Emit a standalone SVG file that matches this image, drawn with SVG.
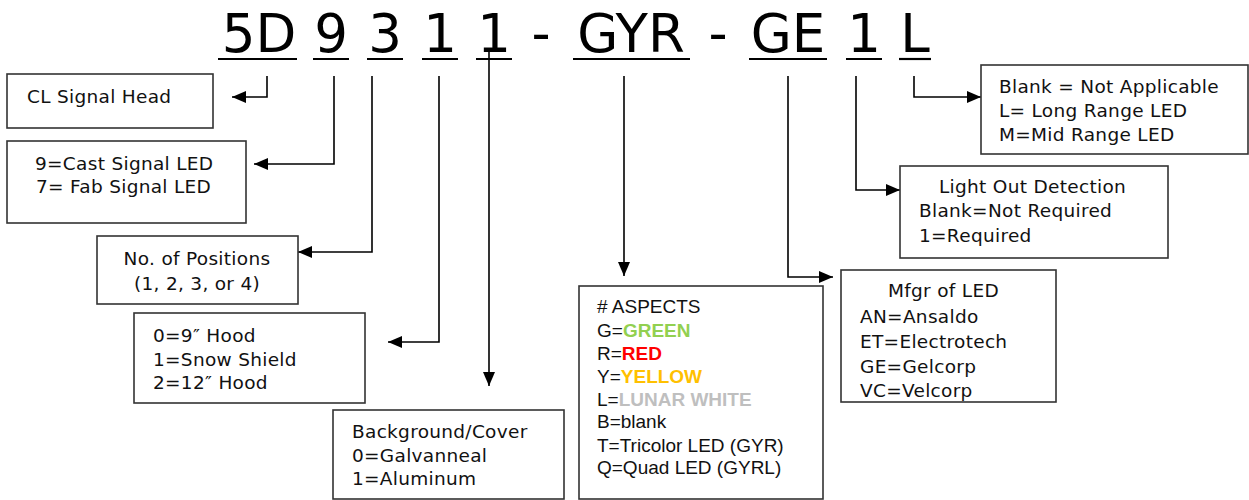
<svg xmlns="http://www.w3.org/2000/svg" width="1249" height="500" viewBox="0 0 1249 500">
<defs>
<marker id="arr" markerUnits="userSpaceOnUse" markerWidth="15" markerHeight="12" refX="14" refY="6" orient="auto">
<path d="M0,0 L14,6 L0,12 z" fill="#000"/>
</marker>
<style>
.box{fill:#fff;stroke:#333;stroke-width:1.6}
.t{font-family:"DejaVu Sans","Verdana",sans-serif;font-size:18.5px;fill:#111;letter-spacing:0.3px}
.a{font-family:"Liberation Sans",Arial,sans-serif;font-size:19px;fill:#111}
.b{font-weight:bold}
.h{font-family:"DejaVu Sans","Verdana",sans-serif;font-size:53px;fill:#000;text-anchor:middle}
.u{stroke:#000;stroke-width:2.2}
.c{fill:none;stroke:#000;stroke-width:1.6}
</style>
</defs>
<rect width="1249" height="500" fill="#fff"/>
<g id="header">
<text class="h" x="259" y="52">5D</text>
<text class="h" x="331" y="52">9</text>
<text class="h" x="385" y="52">3</text>
<text class="h" x="440" y="52">1</text>
<text class="h" x="494" y="52">1</text>
<text class="h" x="541" y="52">-</text>
<text class="h" x="631" y="52">GYR</text>
<text class="h" x="718" y="52">-</text>
<text class="h" x="788" y="52">GE</text>
<text class="h" x="864" y="52">1</text>
<text class="h" x="915" y="52">L</text>
<line class="u" x1="218" y1="59" x2="297" y2="59"/>
<line class="u" x1="313" y1="59" x2="349" y2="59"/>
<line class="u" x1="367" y1="59" x2="403" y2="59"/>
<line class="u" x1="422" y1="59" x2="458" y2="59"/>
<line class="u" x1="476" y1="59" x2="512" y2="59"/>
<line class="u" x1="573" y1="59" x2="690" y2="59"/>
<line class="u" x1="749" y1="59" x2="827" y2="59"/>
<line class="u" x1="846" y1="59" x2="882" y2="59"/>
<line class="u" x1="899" y1="59" x2="931" y2="59"/>
</g>
<g id="connectors">
<path class="c" d="M267,76 V97 H232" marker-end="url(#arr)"/>
<path class="c" d="M334,76 V164 H254" marker-end="url(#arr)"/>
<path class="c" d="M372,76 V252 H298" marker-end="url(#arr)"/>
<path class="c" d="M439,76 V342 H388" marker-end="url(#arr)"/>
<path class="c" d="M489,52 V386" marker-end="url(#arr)"/>
<path class="c" d="M624,76 V276" marker-end="url(#arr)"/>
<path class="c" d="M788,76 V277 H833" marker-end="url(#arr)"/>
<path class="c" d="M856,76 V190 H900" marker-end="url(#arr)"/>
<path class="c" d="M914,76 V97 H981" marker-end="url(#arr)"/>
</g>
<g id="cl-signal-head">
<rect class="box" x="7" y="74" width="206" height="54"/>
<text class="t" x="27" y="103">CL Signal Head</text>
</g>
<g id="signal-type">
<rect class="box" x="7" y="141" width="239" height="82"/>
<text class="t" x="35" y="170">9=Cast Signal LED</text>
<text class="t" x="36" y="193">7= Fab Signal LED</text>
</g>
<g id="positions">
<rect class="box" x="97" y="236" width="201" height="68"/>
<text class="t" x="197" y="265" text-anchor="middle">No. of Positions</text>
<text class="t" x="197" y="290" text-anchor="middle">(1, 2, 3, or 4)</text>
</g>
<g id="hood">
<rect class="box" x="134" y="313" width="231" height="90"/>
<text class="t" x="153" y="342">0=9″ Hood</text>
<text class="t" x="153" y="366">1=Snow Shield</text>
<text class="t" x="153" y="389">2=12″ Hood</text>
</g>
<g id="background">
<rect class="box" x="333" y="410" width="231" height="89"/>
<text class="t" x="352" y="438">Background/Cover</text>
<text class="t" x="352" y="462">0=Galvanneal</text>
<text class="t" x="352" y="485">1=Aluminum</text>
</g>
<g id="aspects">
<rect class="box" x="579" y="286" width="244" height="213"/>
<text class="a" x="597" y="313"># ASPECTS</text>
<text class="a" x="597" y="337">G=<tspan class="b" fill="#92D050">GREEN</tspan></text>
<text class="a" x="597" y="360">R=<tspan class="b" fill="#FF0000">RED</tspan></text>
<text class="a" x="597" y="383">Y=<tspan class="b" fill="#FFC000">YELLOW</tspan></text>
<text class="a" x="597" y="406">L=<tspan class="b" fill="#BFBFBF">LUNAR WHITE</tspan></text>
<text class="a" x="597" y="428">B=blank</text>
<text class="a" x="597" y="452">T=Tricolor LED (GYR)</text>
<text class="a" x="597" y="474">Q=Quad LED (GYRL)</text>
</g>
<g id="manufacturer">
<rect class="box" x="841" y="270" width="215" height="132"/>
<text class="t" x="888" y="297">Mfgr of LED</text>
<text class="t" x="860" y="323">AN=Ansaldo</text>
<text class="t" x="860" y="348">ET=Electrotech</text>
<text class="t" x="860" y="373">GE=Gelcorp</text>
<text class="t" x="860" y="397">VC=Velcorp</text>
</g>
<g id="light-out">
<rect class="box" x="900" y="166" width="268" height="92"/>
<text class="t" x="939" y="193">Light Out Detection</text>
<text class="t" x="919" y="217">Blank=Not Required</text>
<text class="t" x="919" y="242">1=Required</text>
</g>
<g id="range">
<rect class="box" x="981" y="65" width="267" height="89"/>
<text class="t" x="999" y="93">Blank = Not Applicable</text>
<text class="t" x="999" y="117">L= Long Range LED</text>
<text class="t" x="999" y="141">M=Mid Range LED</text>
</g>
</svg>
